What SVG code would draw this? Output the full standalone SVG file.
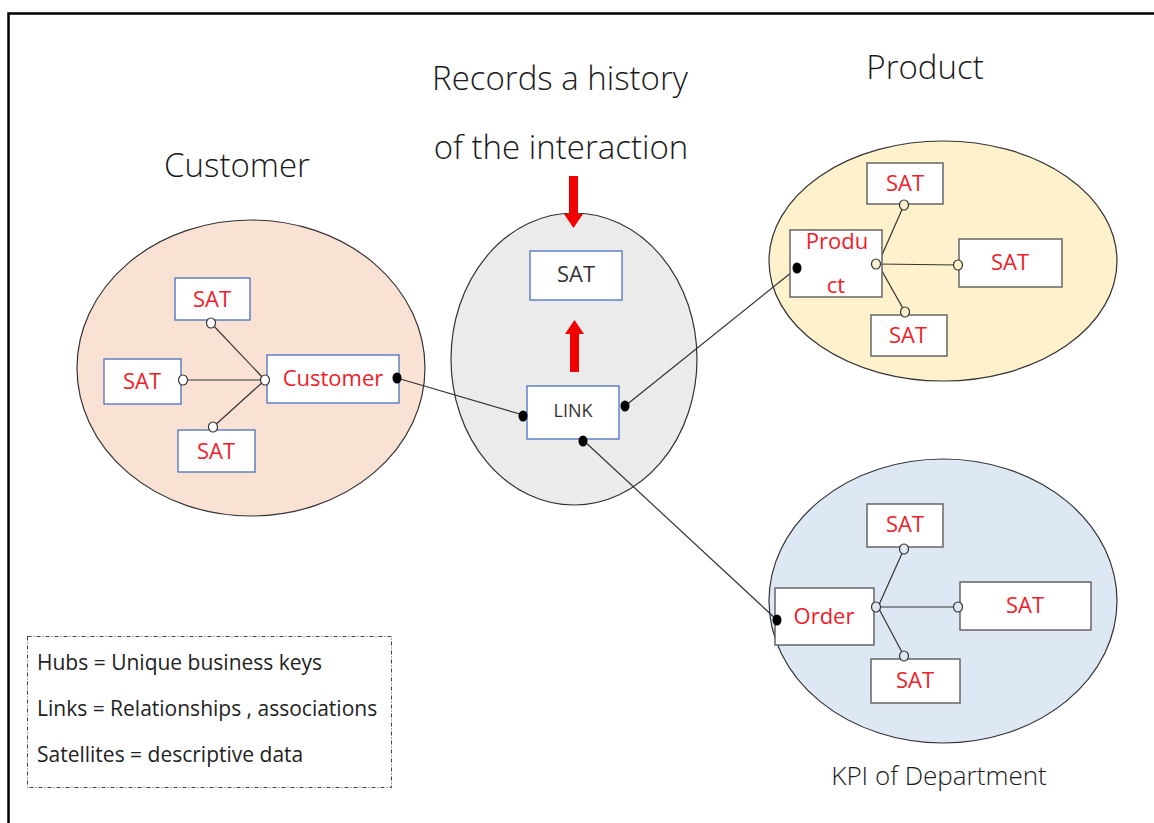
<svg xmlns="http://www.w3.org/2000/svg" width="1154" height="823" viewBox="0 0 1154 823">
  <style>
    .title { font-family: "Open Sans", "Noto Sans", "Liberation Sans", sans-serif; font-weight: 300; fill: #1a1a1a; }
    .zone { stroke: #333; stroke-width: 1.2; }
    .boxb { fill: #fff; stroke: #4a6fbd; stroke-width: 1.3; }
    .boxg { fill: #fff; stroke: #666; stroke-width: 1.5; }
    .red { font-family: "Open Sans", "Noto Sans", "Liberation Sans", sans-serif; fill: #f0202a; font-size: 22px; text-anchor: middle; }
    .dark { font-family: "Open Sans", "Noto Sans", "Liberation Sans", sans-serif; fill: #333; text-anchor: middle; }
    .wire { stroke: #333; stroke-width: 1.2; fill: none; }
    .open { stroke: #333; stroke-width: 1.2; }
    .dot { fill: #000; }
    .legend { font-family: "Open Sans", "Noto Sans", "Liberation Sans", sans-serif; font-size: 21px; fill: #222; }
  </style>

  <rect width="1154" height="823" fill="#fff"/>
  <!-- page frame -->
  <path d="M8.5 823 V13.5 H1154" fill="none" stroke="#000" stroke-width="2.5"/>

  <!-- headings -->
  <text class="title" x="237" y="177" font-size="33" text-anchor="middle">Customer</text>
  <text class="title" x="560" y="90" font-size="33" text-anchor="middle">Records a history</text>
  <text class="title" x="561" y="159" font-size="33" text-anchor="middle">of the interaction</text>
  <text class="title" x="925" y="79" font-size="33" text-anchor="middle">Product</text>
  <text class="title" x="939" y="785" font-size="26" text-anchor="middle">KPI of Department</text>

  <!-- zones -->
  <ellipse class="zone" cx="251" cy="368" rx="174" ry="148" fill="#f9e2d4"/>
  <ellipse class="zone" cx="574" cy="359" rx="123" ry="146" fill="#ebebeb"/>
  <ellipse class="zone" cx="943" cy="261" rx="174" ry="120" fill="#fff1cc"/>
  <ellipse class="zone" cx="943" cy="601" rx="174" ry="142" fill="#dde8f4"/>

  <!-- connectors -->
  <g id="connectors">
    <line class="wire" x1="397" y1="378" x2="523" y2="415"/>
    <line class="wire" x1="625" y1="406" x2="797" y2="268"/>
    <line class="wire" x1="583" y1="440" x2="777" y2="620"/>
    <!-- customer hub spokes -->
    <line class="wire" x1="265" y1="380" x2="211" y2="323"/>
    <line class="wire" x1="265" y1="380" x2="183" y2="380"/>
    <line class="wire" x1="265" y1="380" x2="213" y2="427"/>
    <!-- product hub spokes -->
    <line class="wire" x1="878" y1="264" x2="904" y2="205"/>
    <line class="wire" x1="878" y1="264" x2="958" y2="265"/>
    <line class="wire" x1="878" y1="264" x2="905" y2="312"/>
    <!-- order hub spokes -->
    <line class="wire" x1="878" y1="607" x2="904" y2="549"/>
    <line class="wire" x1="878" y1="607" x2="958" y2="607"/>
    <line class="wire" x1="878" y1="607" x2="904" y2="656"/>
    <!-- red arrows -->
    <path d="M569 176 h9 v38 h5 l-9.5 14 l-9.5 -14 h5 z" fill="#f00000"/>
    <path d="M570 372 v-38 h-5 l9.5 -14 l9.5 14 h-5 v38 z" fill="#f00000"/>
  </g>

  <!-- customer zone -->
  <g id="cust-sat-top"><rect class="boxb" x="175" y="278" width="75" height="42"/><text class="red" x="212" y="307">SAT</text></g>
  <g id="cust-sat-left"><rect class="boxb" x="104" y="359" width="77" height="45"/><text class="red" x="142" y="389">SAT</text></g>
  <g id="cust-sat-bottom"><rect class="boxb" x="178" y="430" width="77" height="42"/><text class="red" x="216" y="459">SAT</text></g>
  <g id="customer-hub"><rect class="boxb" x="267" y="355" width="132" height="48"/><text class="red" x="333" y="386" font-size="24">Customer</text></g>

  <!-- link zone -->
  <g id="link-sat"><rect class="boxb" x="530" y="251" width="92" height="49"/><text class="dark" x="576" y="282" font-size="22">SAT</text></g>
  <g id="link"><rect class="boxb" x="527" y="386" width="92" height="53"/><text class="dark" x="573" y="417" font-size="18">LINK</text></g>

  <!-- product zone -->
  <g id="prod-sat-top"><rect class="boxg" x="867" y="163" width="76" height="41"/><text class="red" x="905" y="191">SAT</text></g>
  <g id="prod-sat-right"><rect class="boxg" x="959" y="239" width="103" height="48"/><text class="red" x="1010" y="270">SAT</text></g>
  <g id="prod-sat-bottom"><rect class="boxg" x="871" y="315" width="76" height="41"/><text class="red" x="908" y="343">SAT</text></g>
  <g id="product-hub"><rect class="boxg" x="790" y="230" width="92" height="67"/><text class="red" x="837" y="249" font-size="24">Produ</text><text class="red" x="836" y="293" font-size="24">ct</text></g>

  <!-- order zone -->
  <g id="order-sat-top"><rect class="boxg" x="867" y="504" width="76" height="43"/><text class="red" x="905" y="532">SAT</text></g>
  <g id="order-sat-right"><rect class="boxg" x="960" y="582" width="131" height="48"/><text class="red" x="1025" y="613">SAT</text></g>
  <g id="order-sat-bottom"><rect class="boxg" x="871" y="659" width="89" height="44"/><text class="red" x="915" y="688">SAT</text></g>
  <g id="order-hub"><rect class="boxg" x="775" y="588" width="99" height="57"/><text class="red" x="824" y="624" font-size="24">Order</text></g>

  <!-- endpoints -->
  <g id="ends">
    <ellipse class="open" cx="211" cy="323" rx="4.5" ry="5" fill="#fff"/>
    <ellipse class="open" cx="183" cy="380" rx="4.5" ry="5" fill="#fff"/>
    <ellipse class="open" cx="265" cy="380" rx="4.5" ry="5" fill="#fff"/>
    <ellipse class="open" cx="213" cy="427" rx="4.5" ry="5" fill="#fff"/>
    <ellipse class="dot" cx="397" cy="378" rx="4.5" ry="5.5"/>
    <ellipse class="dot" cx="523" cy="416" rx="4.5" ry="5.5"/>
    <ellipse class="dot" cx="625" cy="406" rx="4.5" ry="5.5"/>
    <ellipse class="dot" cx="583" cy="441" rx="4.5" ry="5.5"/>
    <ellipse class="dot" cx="797" cy="268" rx="4.5" ry="5.5"/>
    <ellipse class="dot" cx="777" cy="620" rx="4.5" ry="5.5"/>
    <ellipse class="open" cx="904" cy="205" rx="4.5" ry="5" fill="#fff1cc"/>
    <ellipse class="open" cx="876" cy="264" rx="4.5" ry="5" fill="#fff1cc"/>
    <ellipse class="open" cx="958" cy="265" rx="4.5" ry="5" fill="#fff1cc"/>
    <ellipse class="open" cx="905" cy="312" rx="4.5" ry="5" fill="#fff1cc"/>
    <ellipse class="open" cx="904" cy="549" rx="4.5" ry="5" fill="#dde8f4"/>
    <ellipse class="open" cx="876" cy="607" rx="4.5" ry="5" fill="#dde8f4"/>
    <ellipse class="open" cx="958" cy="607" rx="4.5" ry="5" fill="#dde8f4"/>
    <ellipse class="open" cx="904" cy="656" rx="4.5" ry="5" fill="#dde8f4"/>
  </g>

  <!-- legend -->
  <g id="legend">
    <rect x="27.5" y="636.5" width="364" height="151" fill="#fff" stroke="#444" stroke-width="1" stroke-dasharray="4 2 1 2"/>
    <text class="legend" x="37" y="670">Hubs = Unique business keys</text>
    <text class="legend" x="37" y="716">Links = Relationships , associations</text>
    <text class="legend" x="37" y="762">Satellites = descriptive data</text>
  </g>
</svg>
